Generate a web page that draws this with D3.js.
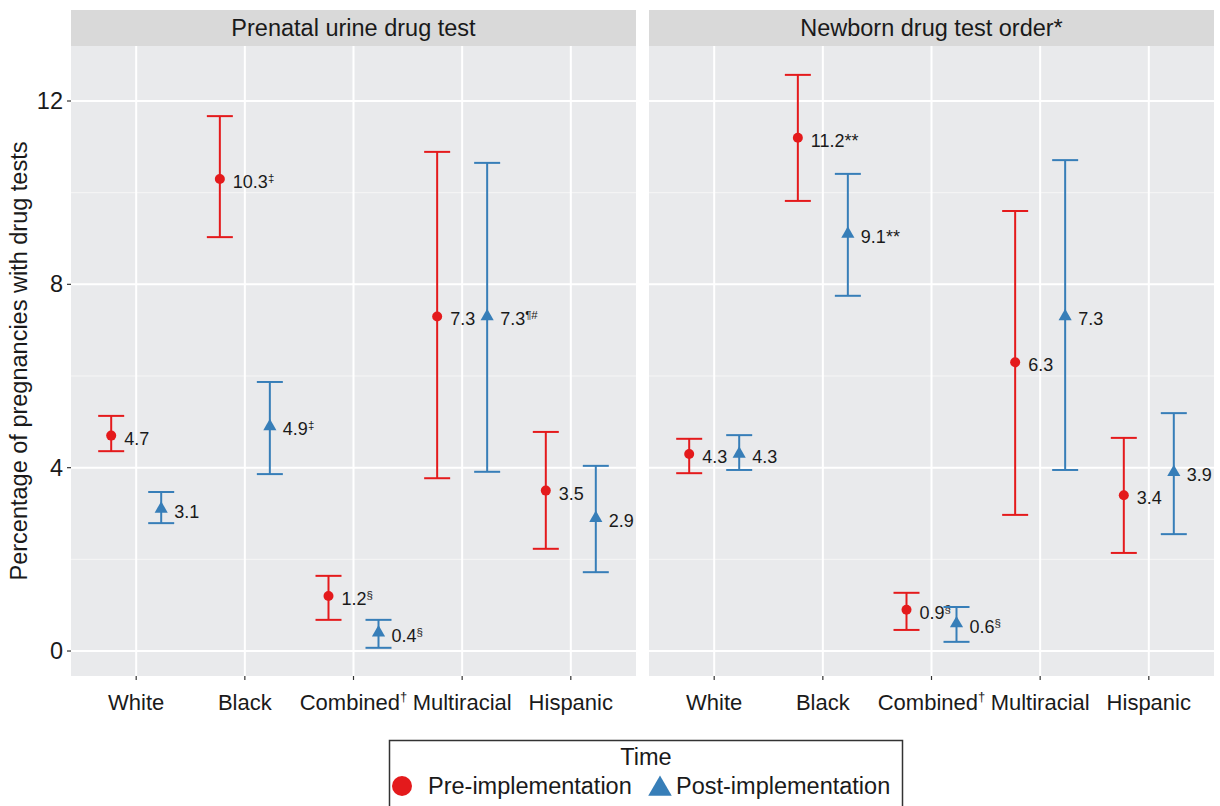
<!DOCTYPE html>
<html><head><meta charset="utf-8">
<script src="https://cdn.jsdelivr.net/npm/d3@7"></script>
<style>body{margin:0;background:#fff;} text{font-family:"Liberation Sans",Arial,sans-serif;}</style>
</head><body><svg id="c" width="1220" height="806"></svg>
<script>
const categories = ["White","Black","Combined","Multiracial","Hispanic"];
const categorySup = ["","","†","",""];
const panels = ["Prenatal urine drug test","Newborn drug test order*"];
const yTicks = [0,4,8,12];
const yMinor = [2,6,10];
const series = ["Pre-implementation","Post-implementation"];

// Prenatal urine drug test
const prenatalPre   = [4.7,10.3,1.2,7.3,3.5];
const prenatalPreLo = [4.36,9.03,0.68,3.77,2.23];
const prenatalPreHi = [5.13,11.67,1.64,10.89,4.78];
const prenatalPreMark = ["","‡","§","",""];
const prenatalPost   = [3.1,4.9,0.4,7.3,2.9];
const prenatalPostLo = [2.79,3.86,0.07,3.91,1.72];
const prenatalPostHi = [3.47,5.87,0.68,10.65,4.04];
const prenatalPostMark = ["","‡","§","¶#",""];
// Newborn drug test order
const newbornPre   = [4.3,11.2,0.9,6.3,3.4];
const newbornPreLo = [3.88,9.82,0.46,2.97,2.14];
const newbornPreHi = [4.63,12.57,1.27,9.6,4.65];
const newbornPreMark = ["","**","§","",""];
const newbornPost   = [4.3,9.1,0.6,7.3,3.9];
const newbornPostLo = [3.95,7.75,0.20,3.95,2.55];
const newbornPostHi = [4.71,10.41,0.96,10.71,5.19];
const newbornPostMark = ["","**","§","",""];

const panelData = [
  [{v:prenatalPre,lo:prenatalPreLo,hi:prenatalPreHi,mk:prenatalPreMark},{v:prenatalPost,lo:prenatalPostLo,hi:prenatalPostHi,mk:prenatalPostMark}],
  [{v:newbornPre,lo:newbornPreLo,hi:newbornPreHi,mk:newbornPreMark},{v:newbornPost,lo:newbornPostLo,hi:newbornPostHi,mk:newbornPostMark}]
];

const colors = ["#E41A1C","#377EB8"];
const svg = d3.select("#c");
const panelX = [71, 649], panelW = 565, pTop = 46, pBottom = 676, stripTop = 10;
const y = d3.scaleLinear().domain([-0.545, 13.2]).range([pBottom, pTop]);
const dodge = 25;
const FS = 23.5;

panels.forEach((title, pi) => {
  const x0 = panelX[pi];
  const x = d3.scalePoint().domain(categories).range([x0, x0+panelW]).padding(0.6);
  const g = svg.append("g");
  g.append("rect").attr("x",x0).attr("y",stripTop).attr("width",panelW).attr("height",pTop-stripTop).attr("fill","#D9D9D9");
  g.append("text").attr("x",x0+panelW/2).attr("y",(stripTop+pTop)/2+8).attr("text-anchor","middle").attr("font-size",FS).attr("fill","#1A1A1A").text(title);
  g.append("rect").attr("x",x0).attr("y",pTop).attr("width",panelW).attr("height",pBottom-pTop).attr("fill","#E9EAEC");
  yMinor.forEach(t=>g.append("line").attr("x1",x0).attr("x2",x0+panelW).attr("y1",y(t)).attr("y2",y(t)).attr("stroke","#F6F6F6").attr("stroke-width",1));
  yTicks.forEach(t=>g.append("line").attr("x1",x0).attr("x2",x0+panelW).attr("y1",y(t)).attr("y2",y(t)).attr("stroke","#fff").attr("stroke-width",2));
  categories.forEach(c=>g.append("line").attr("x1",x(c)).attr("x2",x(c)).attr("y1",pTop).attr("y2",pBottom).attr("stroke","#fff").attr("stroke-width",2));
  // x axis
  categories.forEach((c,i)=>{
    g.append("line").attr("x1",x(c)).attr("x2",x(c)).attr("y1",pBottom).attr("y2",pBottom+4).attr("stroke","#333").attr("stroke-width",1.2);
    const t = g.append("text").attr("x",x(c)).attr("y",pBottom+34).attr("text-anchor","middle").attr("font-size",22).attr("fill","#1A1A1A");
    t.append("tspan").text(c);
    if (categorySup[i]) t.append("tspan").attr("font-size",13).attr("dy",-9).text(categorySup[i]);
  });
  if (pi===0) {
    yTicks.forEach(t=>{
      g.append("line").attr("x1",x0-4).attr("x2",x0).attr("y1",y(t)).attr("y2",y(t)).attr("stroke","#333").attr("stroke-width",1.2);
      g.append("text").attr("x",x0-8).attr("y",y(t)+8).attr("text-anchor","end").attr("font-size",FS).attr("fill","#1A1A1A").text(t);
    });
  }
  panelData[pi].forEach((s, si) => {
    const col = colors[si];
    const off = si===0 ? -dodge : dodge;
    categories.forEach((c,i)=>{
      const cx = x(c)+off;
      g.append("line").attr("x1",cx).attr("x2",cx).attr("y1",y(s.lo[i])).attr("y2",y(s.hi[i])).attr("stroke",col).attr("stroke-width",2);
      [s.lo[i],s.hi[i]].forEach(v=>g.append("line").attr("x1",cx-13).attr("x2",cx+13).attr("y1",y(v)).attr("y2",y(v)).attr("stroke",col).attr("stroke-width",2));
      if (si===0) g.append("circle").attr("cx",cx).attr("cy",y(s.v[i])).attr("r",5).attr("fill",col);
      else g.append("path").attr("transform",`translate(${cx},${y(s.v[i])})`).attr("d",d3.symbol(d3.symbolTriangle,75)()).attr("fill",col);
      const t = g.append("text").attr("x",cx+13).attr("y",y(s.v[i])+9).attr("font-size",18).attr("fill","#1A1A1A");
      t.append("tspan").text(s.v[i].toFixed(1));
      const mk = s.mk[i];
      if (mk==="**") t.append("tspan").text(mk);
      else if (mk) t.append("tspan").attr("font-size",11.5).attr("dy",-6).text(mk);
    });
  });
});

// y axis title
svg.append("text").attr("transform",`translate(27,${(pTop+pBottom)/2}) rotate(-90)`).attr("text-anchor","middle").attr("font-size",FS).attr("fill","#1A1A1A").text("Percentage of pregnancies with drug tests");

// legend
const lg = svg.append("g");
lg.append("rect").attr("x",389.5).attr("y",740.5).attr("width",513).attr("height",70).attr("fill","#fff").attr("stroke","#333").attr("stroke-width",1.5);
lg.append("text").attr("x",646).attr("y",765).attr("text-anchor","middle").attr("font-size",FS).attr("fill","#1A1A1A").text("Time");
lg.append("circle").attr("cx",402).attr("cy",786).attr("r",10).attr("fill",colors[0]);
lg.append("text").attr("x",428).attr("y",794).attr("font-size",FS).attr("fill","#1A1A1A").text(series[0]);
lg.append("path").attr("transform","translate(660,789)").attr("d",d3.symbol(d3.symbolTriangle,240)()).attr("fill",colors[1]);
lg.append("text").attr("x",676).attr("y",794).attr("font-size",FS).attr("fill","#1A1A1A").text(series[1]);
</script></body></html>
